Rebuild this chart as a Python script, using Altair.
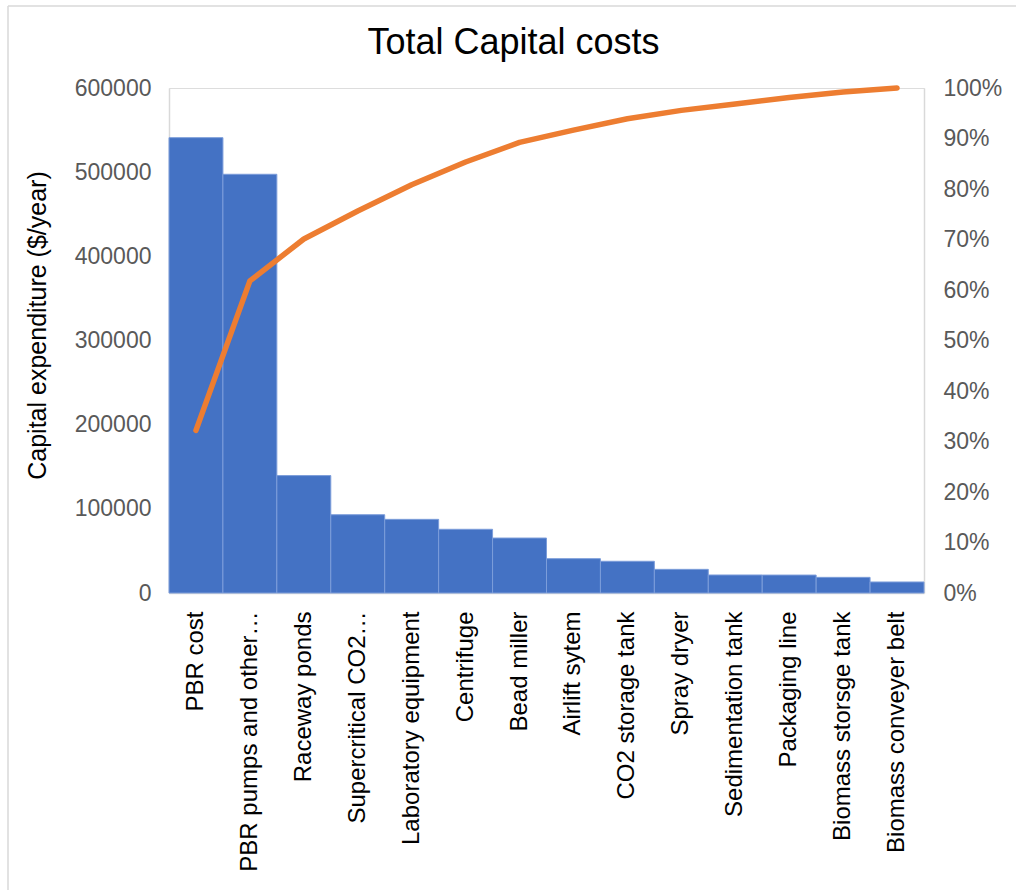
import altair as alt
import pandas as pd

# Equipment items, ordered from largest to smallest capital cost (Pareto order)
categories = [
    "PBR cost",
    "PBR pumps and other…",
    "Raceway ponds",
    "Supercritical CO2…",
    "Laboratory equipment",
    "Centrifuge",
    "Bead miller",
    "Airlift sytem",
    "CO2 storage tank",
    "Spray dryer",
    "Sedimentation tank",
    "Packaging line",
    "Biomass storsge tank",
    "Biomass conveyer belt",
]

# Capital expenditure per item ($/year)
costs = [541000, 497500, 139500, 93000, 87500, 75700, 65300,
         40800, 37700, 28100, 21400, 21300, 18600, 13100]

# Axis tick values
cost_ticks = [0, 100000, 200000, 300000, 400000, 500000, 600000]
share_ticks = [0, 0.1, 0.2, 0.3, 0.4, 0.5, 0.6, 0.7, 0.8, 0.9, 1.0]

FONT = "Liberation Sans"
BAR_BLUE = "#4472C4"
LINE_ORANGE = "#ED7D31"
AXIS_GREY = "#D9D9D9"
LABEL_GREY = "#595959"

df = pd.DataFrame({"item": categories, "cost": costs, "rank": list(range(len(categories)))})

x_enc = alt.X(
    "item:N",
    sort=categories,
    scale=alt.Scale(paddingInner=0, paddingOuter=0),
    axis=alt.Axis(
        title=None,
        labelAngle=-90,
        labelFont=FONT,
        labelFontSize=24,
        labelColor="#000000",
        labelPadding=18,
        labelLimit=400,
        ticks=False,
        domainColor=AXIS_GREY,
        domainWidth=1.5,
    ),
)

bars = alt.Chart(df).mark_bar(
    color=BAR_BLUE, stroke="#7C9DDA", strokeWidth=1
).encode(
    x=x_enc,
    y=alt.Y(
        "cost:Q",
        scale=alt.Scale(domain=[0, 600000], nice=False),
        axis=alt.Axis(
            title="Capital expenditure ($/year)",
            titleFont=FONT,
            titleFontSize=25,
            titleFontWeight="normal",
            titleColor="#000000",
            titleX=-119,
            titleY=237,
            values=cost_ticks,
            format="d",
            labelFont=FONT,
            labelFontSize=23,
            labelColor=LABEL_GREY,
            labelPadding=18,
            ticks=False,
            grid=False,
            domainColor=AXIS_GREY,
            domainWidth=1.5,
        ),
    ),
)

# Cumulative share of the total cost, computed from the bar values
line = alt.Chart(df).transform_window(
    running="sum(cost)", sort=[alt.SortField("rank")], frame=[None, 0]
).transform_joinaggregate(
    total="sum(cost)"
).transform_calculate(
    share="datum.running / datum.total"
).mark_line(
    color=LINE_ORANGE, strokeWidth=5.5, strokeCap="round", strokeJoin="round"
).encode(
    x=x_enc,
    y=alt.Y(
        "share:Q",
        scale=alt.Scale(domain=[0, 1], nice=False),
        axis=alt.Axis(
            orient="right",
            title=None,
            values=share_ticks,
            format=".0%",
            labelFont=FONT,
            labelFontSize=23,
            labelColor=LABEL_GREY,
            labelPadding=19,
            ticks=False,
            grid=False,
            domainColor=AXIS_GREY,
            domainWidth=1.5,
        ),
    ),
    order=alt.Order("rank:Q"),
)

# Thin outer frame around the chart
frame_src = pd.DataFrame({"k": [0]})
frame_left = alt.Chart(frame_src).mark_rule(color=AXIS_GREY, strokeWidth=1.5).encode(
    x=alt.value(-161), y=alt.value(-82), y2=alt.value(810)
)
frame_top = alt.Chart(frame_src).mark_rule(color=AXIS_GREY, strokeWidth=1.5).encode(
    x=alt.value(-161), x2=alt.value(860), y=alt.value(-82)
)

chart = alt.layer(bars, line, frame_left, frame_top).resolve_scale(
    y="independent"
).properties(
    width=755,
    height=505,
    title=alt.TitleParams(
        "Total Capital costs",
        font=FONT,
        fontSize=36,
        fontWeight="normal",
        color="#000000",
        anchor="middle",
        baseline="alphabetic",
        dx=-33,
        offset=-85,
    ),
    autosize=alt.AutoSizeParams(type="none"),
    padding={"left": 169, "top": 88, "right": 92, "bottom": 297},
).configure_view(
    stroke=None
).configure(
    background="white"
)

chart.save("out.html", embed_options={"renderer": "svg", "actions": False})
